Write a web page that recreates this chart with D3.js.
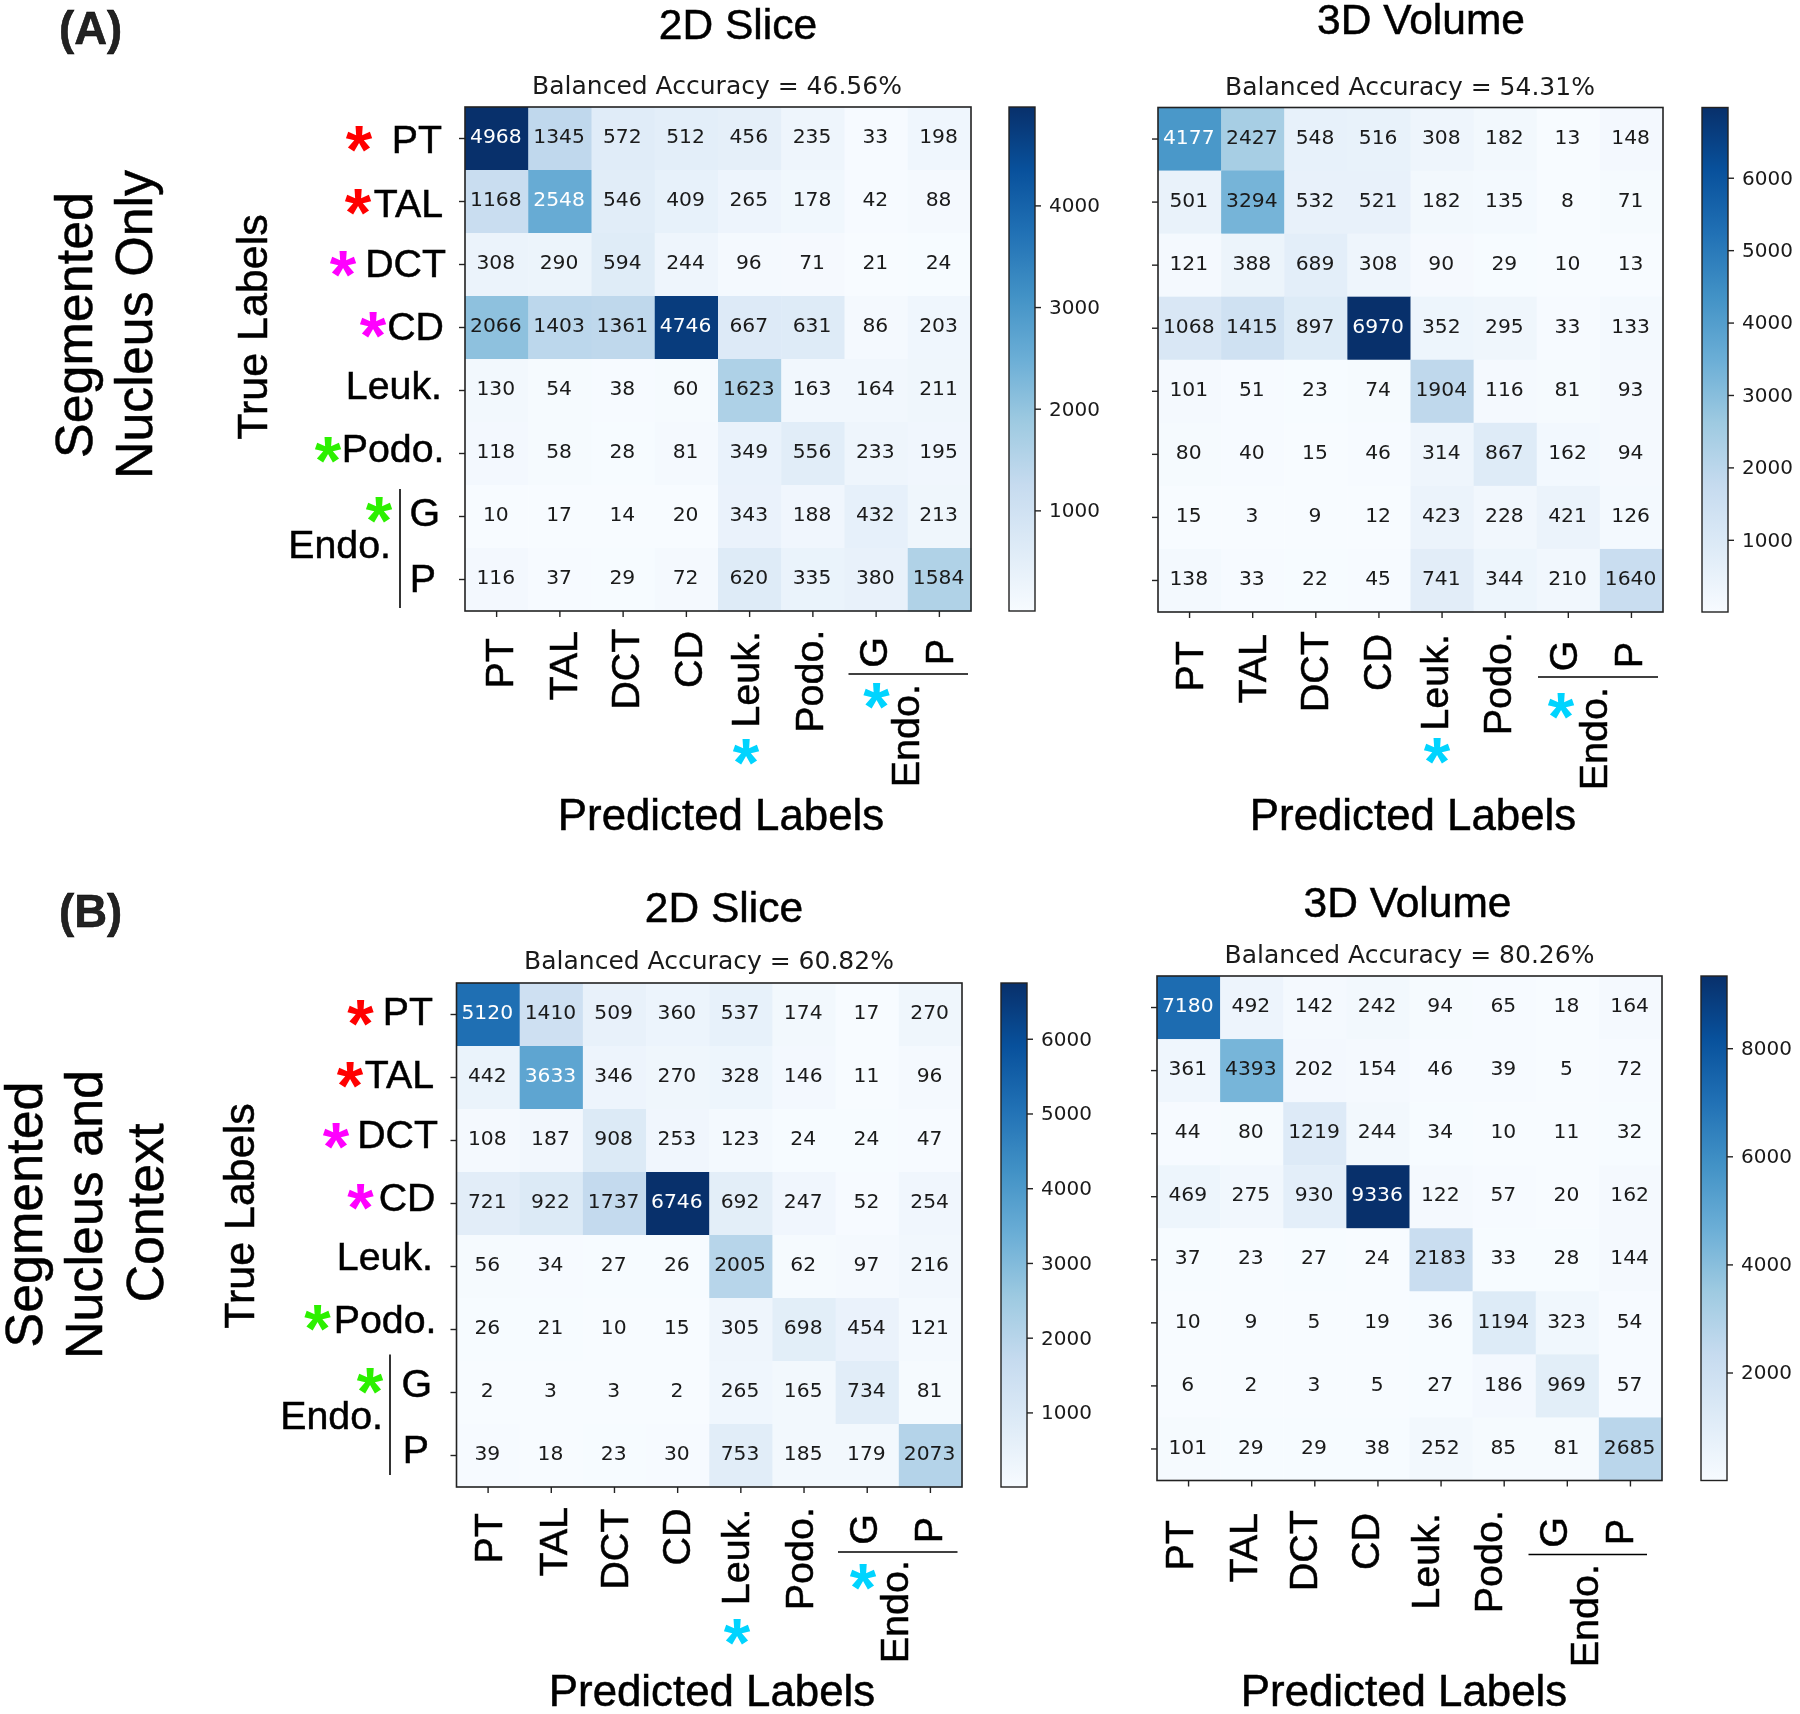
<!DOCTYPE html>
<html>
<head>
<meta charset="utf-8">
<script src="https://d3js.org/d3.v7.min.js"></script>
<style>
  body { margin: 0; background: #fff; }
  svg { display: block; filter: blur(0.35px); }
  text { font-family: "Liberation Sans", Arial, sans-serif; fill: #000; stroke: #000; stroke-width: 0.5px; }
  .mpl text, text.mpl { font-family: "DejaVu Sans", sans-serif; stroke: none; }
  text.star { stroke: none; }
</style>
</head>
<body>
<div id="chart"></div>
<script>
// Confusion matrices, rows = true label, columns = predicted label
const classes = ['PT', 'TAL', 'DCT', 'CD', 'Leuk.', 'Podo.', 'G', 'P'];

const nucleus2d = [
  [4968, 1345, 572, 512, 456, 235, 33, 198],
  [1168, 2548, 546, 409, 265, 178, 42, 88],
  [308, 290, 594, 244, 96, 71, 21, 24],
  [2066, 1403, 1361, 4746, 667, 631, 86, 203],
  [130, 54, 38, 60, 1623, 163, 164, 211],
  [118, 58, 28, 81, 349, 556, 233, 195],
  [10, 17, 14, 20, 343, 188, 432, 213],
  [116, 37, 29, 72, 620, 335, 380, 1584]
];
const nucleus3d = [
  [4177, 2427, 548, 516, 308, 182, 13, 148],
  [501, 3294, 532, 521, 182, 135, 8, 71],
  [121, 388, 689, 308, 90, 29, 10, 13],
  [1068, 1415, 897, 6970, 352, 295, 33, 133],
  [101, 51, 23, 74, 1904, 116, 81, 93],
  [80, 40, 15, 46, 314, 867, 162, 94],
  [15, 3, 9, 12, 423, 228, 421, 126],
  [138, 33, 22, 45, 741, 344, 210, 1640]
];
const context2d = [
  [5120, 1410, 509, 360, 537, 174, 17, 270],
  [442, 3633, 346, 270, 328, 146, 11, 96],
  [108, 187, 908, 253, 123, 24, 24, 47],
  [721, 922, 1737, 6746, 692, 247, 52, 254],
  [56, 34, 27, 26, 2005, 62, 97, 216],
  [26, 21, 10, 15, 305, 698, 454, 121],
  [2, 3, 3, 2, 265, 165, 734, 81],
  [39, 18, 23, 30, 753, 185, 179, 2073]
];
const context3d = [
  [7180, 492, 142, 242, 94, 65, 18, 164],
  [361, 4393, 202, 154, 46, 39, 5, 72],
  [44, 80, 1219, 244, 34, 10, 11, 32],
  [469, 275, 930, 9336, 122, 57, 20, 162],
  [37, 23, 27, 24, 2183, 33, 28, 144],
  [10, 9, 5, 19, 36, 1194, 323, 54],
  [6, 2, 3, 5, 27, 186, 969, 57],
  [101, 29, 29, 38, 252, 85, 81, 2685]
];

const ticksNucleus2d = [1000, 2000, 3000, 4000];
const ticksNucleus3d = [1000, 2000, 3000, 4000, 5000, 6000];
const ticksContext2d = [1000, 2000, 3000, 4000, 5000, 6000];
const ticksContext3d = [2000, 4000, 6000, 8000];

const RED = '#ff0000', MAGENTA = '#ff00ff', GREEN = '#2cf000', CYAN = '#00d4ff';

// Where each panel sits on the page
const panels = [
  {
    matrix: nucleus2d, ticks: ticksNucleus2d, title: '2D Slice', accuracy: 'Balanced Accuracy = 46.56%',
    box: [465, 107, 506, 504], bar: 1009,
    titlePos: [738, 39], accPos: [717, 94], predPos: [721, 830],
    xBase: [513, 577, 639, 701.5, 759, 822.5, 887, 953],
    xTop: [638, 631, 628.5, 631, 631, 629.5, 637, 639],
    rule: [848.5, 968, 674], endo: [919, 684],
    stars: [[746, 753, CYAN], [876.5, 697, CYAN]],
    trueLabels: {
      x: 267, y: 327,
      right: [442, 443, 446, 444, 442, 444.5, 440, 436],
      base: [153, 217, 277, 340, 399, 462, 526, 591.5],
      endo: [391, 557.5], line: [400, 489, 608],
      stars: [[359, 139.5, RED], [358, 203, RED], [343, 265, MAGENTA], [373, 326, MAGENTA], [328, 450.5, GREEN], [379, 511, GREEN]]
    }
  },
  {
    matrix: nucleus3d, ticks: ticksNucleus3d, title: '3D Volume', accuracy: 'Balanced Accuracy = 54.31%',
    box: [1158, 107.5, 505, 504.5], bar: 1702,
    titlePos: [1421, 34], accPos: [1410, 95], predPos: [1413, 830],
    xBase: [1202.5, 1266, 1328, 1391, 1448, 1511, 1577, 1642],
    xTop: [641, 634, 631, 634, 634, 632, 640.5, 642],
    rule: [1538, 1658, 677], endo: [1607, 687],
    stars: [[1437, 752, CYAN], [1561, 707, CYAN]]
  },
  {
    matrix: context2d, ticks: ticksContext2d, title: '2D Slice', accuracy: 'Balanced Accuracy = 60.82%',
    box: [456.5, 983, 505.5, 504], bar: 1001,
    titlePos: [724, 922], accPos: [709, 969], predPos: [712, 1706],
    xBase: [502, 566.5, 627.5, 690, 749, 813, 877, 942],
    xTop: [1513, 1507, 1508.5, 1508.5, 1508.5, 1507, 1514, 1517],
    rule: [838, 957.5, 1552], endo: [908, 1560],
    stars: [[737, 1633, CYAN], [863, 1577.5, CYAN]],
    trueLabels: {
      x: 254, y: 1216,
      right: [433, 434, 438, 435.5, 433, 436.5, 432, 429],
      base: [1025, 1087.5, 1148, 1211, 1270, 1332.5, 1397, 1463],
      endo: [383, 1429], line: [390, 1354.5, 1475],
      stars: [[360.5, 1014, RED], [350, 1075.5, RED], [336, 1137, MAGENTA], [360.5, 1197.5, MAGENTA], [317.5, 1319, GREEN], [370, 1382, GREEN]]
    }
  },
  {
    matrix: context3d, ticks: ticksContext3d, title: '3D Volume', accuracy: 'Balanced Accuracy = 80.26%',
    box: [1157, 976, 505, 504.5], bar: 1701,
    titlePos: [1407.5, 917], accPos: [1409.5, 963], predPos: [1404, 1706],
    xBase: [1193, 1257, 1317, 1379, 1438.5, 1501.5, 1567, 1633],
    xTop: [1520, 1513, 1510, 1513, 1513, 1510, 1517, 1519],
    rule: [1528.5, 1647, 1554.5], endo: [1597.5, 1564],
    stars: []
  }
];

const sideLabels = [
  { text: 'Segmented', x: 92, y: 325 },
  { text: 'Nucleus Only', x: 152, y: 324.5 },
  { text: 'Segmented', x: 42, y: 1214.5 },
  { text: 'Nucleus and', x: 102, y: 1214.5 },
  { text: 'Context', x: 162.5, y: 1213 }
];

const svg = d3.select('#chart').append('svg')
  .attr('width', 1800)
  .attr('height', 1714);

svg.append('rect').attr('width', 1800).attr('height', 1714).attr('fill', '#fff');

const defs = svg.append('defs');

// Same stops as matplotlib's Blues
const blues = d3.schemeBlues[9];

function rotated(x, y, str, size, anchor) {
  return svg.append('text')
    .attr('transform', `translate(${x},${y}) rotate(-90)`)
    .attr('text-anchor', anchor)
    .attr('font-size', size)
    .text(str);
}

function star(x, y, colour) {
  svg.append('text')
    .attr('class', 'star')
    .attr('x', x)
    .attr('y', y + 33)
    .attr('text-anchor', 'middle')
    .attr('font-size', 68)
    .attr('font-weight', 'bold')
    .style('fill', colour)
    .text('*');
}

function drawPanel(p, idx) {
  const [left, top, width, height] = p.box;
  const flat = p.matrix.flat();
  const min = d3.min(flat), max = d3.max(flat);

  const x = d3.scaleBand().domain(d3.range(classes.length)).range([left, left + width]);
  const y = d3.scaleBand().domain(d3.range(classes.length)).range([top, top + height]);
  const colour = d3.scaleLinear()
    .domain(blues.map((c, i) => min + (max - min) * i / (blues.length - 1)))
    .range(blues);

  // Cells
  const rows = svg.append('g').selectAll('g')
    .data(p.matrix)
    .join('g')
    .attr('transform', (d, i) => `translate(0,${y(i)})`);

  rows.selectAll('rect')
    .data(d => d)
    .join('rect')
    .attr('x', (d, i) => x(i))
    .attr('width', x.bandwidth() + 0.5)
    .attr('height', y.bandwidth() + 0.5)
    .attr('fill', d => colour(d));

  rows.selectAll('text')
    .data(d => d)
    .join('text')
    .attr('class', 'mpl')
    .attr('x', (d, i) => x(i) + x.bandwidth() / 2 - 0.8)
    .attr('y', y.bandwidth() / 2 - 2.6)
    .attr('dy', '0.36em')
    .attr('text-anchor', 'middle')
    .attr('font-size', 20.3)
    .style('fill', d => d > max / 2 ? '#fff' : '#1a1a1a')
    .text(d => d);

  // Frame and ticks
  svg.append('rect')
    .attr('x', left).attr('y', top)
    .attr('width', width).attr('height', height)
    .attr('fill', 'none').attr('stroke', '#222').attr('stroke-width', 1.6);

  const xAxis = svg.append('g')
    .attr('transform', `translate(0,${top + height})`)
    .call(d3.axisBottom(x).tickSize(6).tickFormat(''));
  const yAxis = svg.append('g')
    .attr('transform', `translate(${left},0)`)
    .call(d3.axisLeft(y).tickSize(6).tickFormat(''));
  [xAxis, yAxis].forEach(a => {
    a.select('.domain').remove();
    a.selectAll('line').attr('stroke', '#222').attr('stroke-width', 1.4);
  });

  // Colour bar
  const barW = 26;
  const barY = d3.scaleLinear().domain([min, max]).range([top + height, top]);
  const gradId = 'bar' + idx;
  defs.append('linearGradient')
    .attr('id', gradId)
    .attr('x1', 0).attr('x2', 0).attr('y1', 1).attr('y2', 0)
    .selectAll('stop')
    .data(blues)
    .join('stop')
    .attr('offset', (d, i) => i / (blues.length - 1))
    .attr('stop-color', d => d);
  svg.append('rect')
    .attr('x', p.bar).attr('y', top)
    .attr('width', barW).attr('height', height)
    .attr('fill', `url(#${gradId})`)
    .attr('stroke', '#222').attr('stroke-width', 1.4);
  const barAxis = svg.append('g')
    .attr('class', 'mpl')
    .attr('transform', `translate(${p.bar + barW},0)`)
    .call(d3.axisRight(barY).tickValues(p.ticks).tickSize(6).tickPadding(8).tickFormat(d3.format('d')));
  barAxis.select('.domain').remove();
  barAxis.selectAll('line').attr('stroke', '#222').attr('stroke-width', 1.4);
  barAxis.selectAll('text').attr('font-size', 20).style('fill', '#1a1a1a');

  // Titles
  svg.append('text')
    .attr('x', p.titlePos[0]).attr('y', p.titlePos[1])
    .attr('text-anchor', 'middle').attr('font-size', 42.5)
    .text(p.title);
  svg.append('text')
    .attr('class', 'mpl')
    .attr('x', p.accPos[0]).attr('y', p.accPos[1])
    .attr('text-anchor', 'middle').attr('font-size', 25)
    .style('fill', '#1a1a1a')
    .text(p.accuracy);
  svg.append('text')
    .attr('x', p.predPos[0]).attr('y', p.predPos[1])
    .attr('text-anchor', 'middle').attr('font-size', 43.8)
    .text('Predicted Labels');

  // Hand placed column labels
  classes.forEach((c, i) => rotated(p.xBase[i], p.xTop[i], c, 39.5, 'end'));
  rotated(p.endo[0], p.endo[1], 'Endo.', 39.5, 'end');
  svg.append('line')
    .attr('x1', p.rule[0]).attr('x2', p.rule[1])
    .attr('y1', p.rule[2]).attr('y2', p.rule[2])
    .attr('stroke', '#000').attr('stroke-width', 1.6);
  p.stars.forEach(s => star(s[0], s[1], s[2]));

  // Hand placed row labels, left hand panels only
  if (p.trueLabels) {
    const t = p.trueLabels;
    rotated(t.x, t.y, 'True Labels', 43, 'middle');
    classes.forEach((c, i) => {
      svg.append('text')
        .attr('x', t.right[i]).attr('y', t.base[i])
        .attr('text-anchor', 'end').attr('font-size', 39.3)
        .text(c);
    });
    svg.append('text')
      .attr('x', t.endo[0]).attr('y', t.endo[1])
      .attr('text-anchor', 'end').attr('font-size', 39.3)
      .text('Endo.');
    svg.append('line')
      .attr('x1', t.line[0]).attr('x2', t.line[0])
      .attr('y1', t.line[1]).attr('y2', t.line[2])
      .attr('stroke', '#000').attr('stroke-width', 1.6);
    t.stars.forEach(s => star(s[0], s[1], s[2]));
  }
}

panels.forEach(drawPanel);

sideLabels.forEach(s => rotated(s.x, s.y, s.text, 52, 'middle'));

[['(A)', 44], ['(B)', 927]].forEach(([str, yPos]) => {
  svg.append('text')
    .attr('x', 59).attr('y', yPos)
    .attr('font-size', 45.5).attr('font-weight', 'bold')
    .style('fill', '#222')
    .text(str);
});
</script>
</body>
</html>
